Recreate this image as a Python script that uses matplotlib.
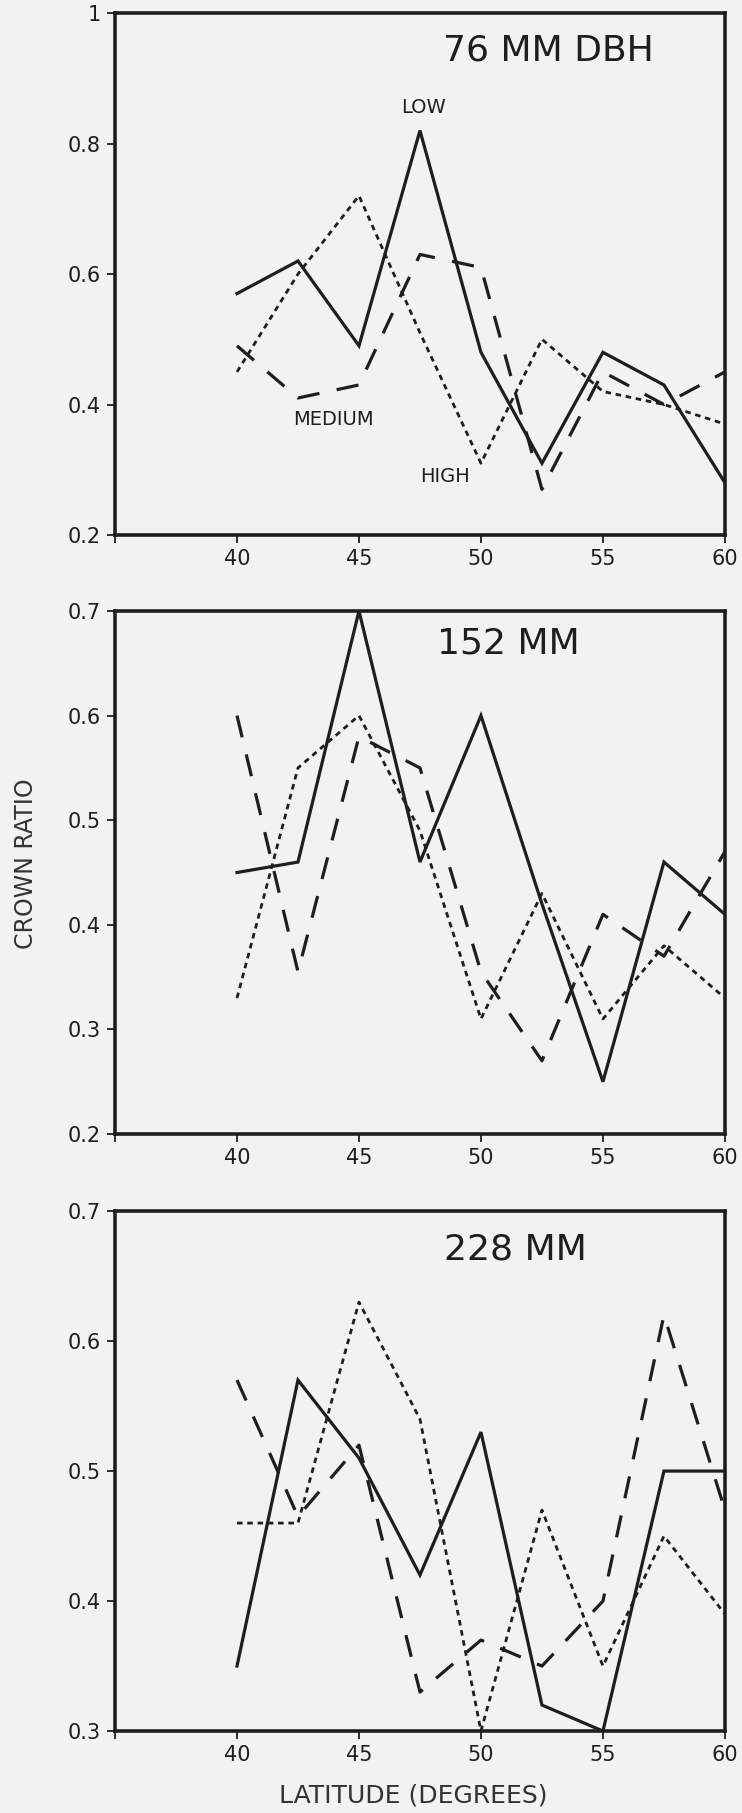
import matplotlib
matplotlib.use("Agg")
import matplotlib.pyplot as plt

# latitude (degrees)
latitude = [40, 42.5, 45, 47.5, 50, 52.5, 55, 57.5, 60]

# 76 mm DBH
low_76 = [0.57, 0.62, 0.49, 0.82, 0.48, 0.31, 0.48, 0.43, 0.28]
med_76 = [0.49, 0.41, 0.43, 0.63, 0.61, 0.27, 0.45, 0.40, 0.45]
high_76 = [0.45, 0.60, 0.72, 0.51, 0.31, 0.50, 0.42, 0.40, 0.37]

# 152 mm
low_152 = [0.45, 0.46, 0.70, 0.46, 0.60, 0.42, 0.25, 0.46, 0.41]
med_152 = [0.60, 0.355, 0.58, 0.55, 0.355, 0.27, 0.41, 0.37, 0.47]
high_152 = [0.33, 0.55, 0.60, 0.49, 0.31, 0.43, 0.31, 0.38, 0.33]

# 228 mm
low_228 = [0.35, 0.57, 0.51, 0.42, 0.53, 0.32, 0.30, 0.50, 0.50]
med_228 = [0.57, 0.465, 0.52, 0.33, 0.37, 0.35, 0.40, 0.62, 0.47]
high_228 = [0.46, 0.46, 0.63, 0.54, 0.30, 0.47, 0.35, 0.45, 0.39]

panel_titles = ["76 MM DBH", "152 MM", "228 MM"]
x_ticks = [35, 40, 45, 50, 55, 60]
x_ticklabels = ["", "40", "45", "50", "55", "60"]
y_ticks = [[0.2, 0.4, 0.6, 0.8, 1.0], [0.2, 0.3, 0.4, 0.5, 0.6, 0.7], [0.3, 0.4, 0.5, 0.6, 0.7]]
y_ticklabels = [["0.2", "0.4", "0.6", "0.8", "1"],
                ["0.2", "0.3", "0.4", "0.5", "0.6", "0.7"],
                ["0.3", "0.4", "0.5", "0.6", "0.7"]]
y_limits = [(0.2, 1.0), (0.2, 0.7), (0.3, 0.7)]

series = [(low_76, med_76, high_76), (low_152, med_152, high_152), (low_228, med_228, high_228)]

bg = "#f2f2f2"
ink = "#1e1e1e"

fig = plt.figure(figsize=(7.42, 18.13), dpi=100, facecolor=bg)

# axes boxes in figure fractions: (bottom, height)
boxes = [(0.7049, 0.2879), (0.3745, 0.2885), (0.0452, 0.2868)]
title_pos = [(0.711, 0.929), (0.645, 0.937), (0.657, 0.926)]

for i, (bottom, height) in enumerate(boxes):
    ax = fig.add_axes([0.155, bottom, 0.822, height], facecolor=bg)
    low, med, high = series[i]
    ax.plot(latitude, low, color=ink, lw=2.3, solid_joinstyle="miter")
    ax.plot(latitude, med, color=ink, lw=2.3, dashes=(7, 5.5))
    ax.plot(latitude, high, color=ink, lw=2.0, dashes=(2, 1.7))

    ax.set_xlim(35, 60)
    ax.set_ylim(*y_limits[i])
    ax.set_xticks(x_ticks)
    ax.set_xticklabels(x_ticklabels)
    ax.set_yticks(y_ticks[i])
    ax.set_yticklabels(y_ticklabels[i])
    ax.tick_params(direction="out", length=6, width=1.3, labelsize=15,
                   colors=ink, pad=4)
    for s in ax.spines.values():
        s.set_linewidth(2.6)
        s.set_color(ink)

    ax.text(title_pos[i][0], title_pos[i][1], panel_titles[i], transform=ax.transAxes,
            ha="center", va="center", fontsize=26, color=ink)

    if i == 0:
        ax.text(0.506, 0.82, "LOW", transform=ax.transAxes, ha="center", va="center",
                fontsize=14, color=ink)
        ax.text(0.358, 0.221, "MEDIUM", transform=ax.transAxes, ha="center", va="center",
                fontsize=14, color=ink)
        ax.text(0.541, 0.1115, "HIGH", transform=ax.transAxes, ha="center", va="center",
                fontsize=14, color=ink)

fig.text(0.035, 0.5234, "CROWN RATIO", rotation=90, ha="center", va="center",
         fontsize=17, color="#333333")
fig.text(0.557, 0.0099, "LATITUDE (DEGREES)", ha="center", va="center",
         fontsize=18, color="#333333")

fig.savefig("out.png", dpi=100, facecolor=bg)
